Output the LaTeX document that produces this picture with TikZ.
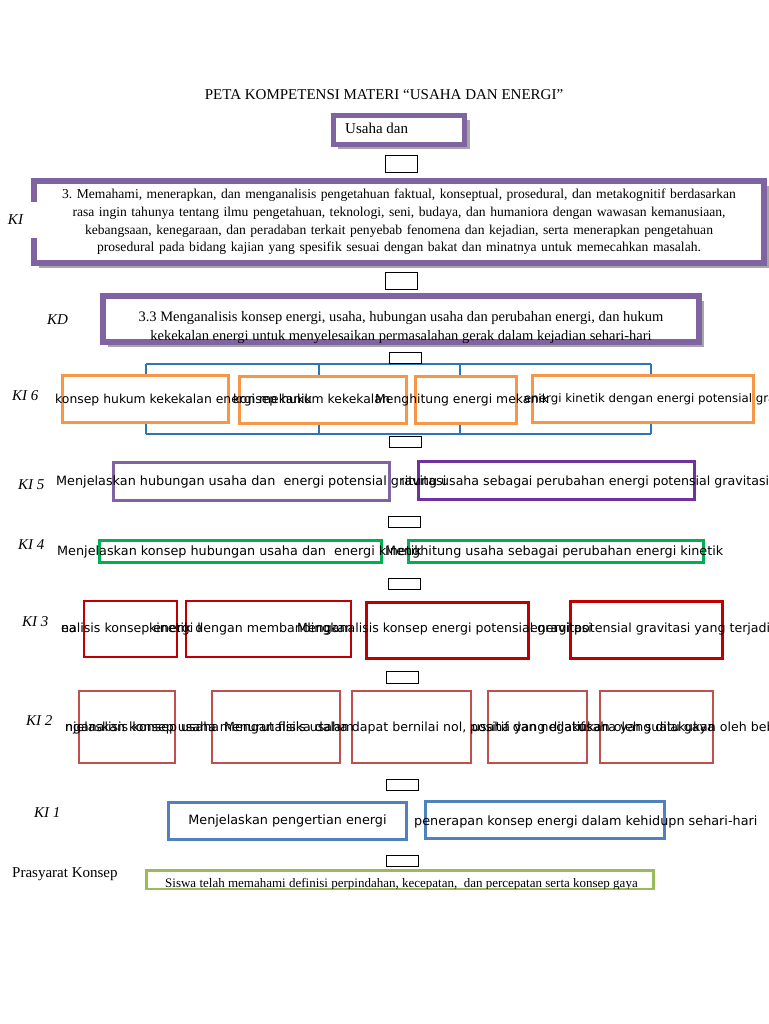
\documentclass[tikz,border=0pt]{standalone}
\usepackage{fontspec}
\setmainfont{Liberation Serif}
\newfontfamily\rowfont{DejaVu Sans}
\usetikzlibrary{shadows}
\frenchspacing

\definecolor{kipurple}{HTML}{8064A2}
\definecolor{darkpurple}{HTML}{7030A0}
\definecolor{kiorange}{HTML}{F79646}
\definecolor{kiblue}{HTML}{4F81BD}
\definecolor{bracketblue}{HTML}{2E75B6}
\definecolor{kigreen}{HTML}{00B050}
\definecolor{kired}{HTML}{C00000}
\definecolor{softred}{HTML}{C0504D}
\definecolor{kiolive}{HTML}{9BBB59}

\tikzset{
  mainbox/.style={draw=kipurple, line width=6pt, fill=white, inner sep=0pt,
    drop shadow={shadow xshift=5pt, shadow yshift=-5pt, fill=black!35, opacity=1}},
  linkbox/.style={draw=black, line width=0.8pt, fill=white, minimum width=32pt, inner sep=0pt},
  rowbox/.style={draw=#1, inner sep=0pt},
  rowtext/.style={anchor=base west, inner sep=0pt, font=\rowfont\fontsize{12.8}{15}\selectfont},
  kilabel/.style={anchor=base west, inner sep=0pt, font=\itshape\fontsize{15}{18}\selectfont},
  bracket/.style={draw=bracketblue, line width=2pt},
}

\begin{document}
\begin{tikzpicture}[x=1pt, y=-1pt]
\fill[white] (0,0) rectangle (768,1024);
\useasboundingbox (0,0) rectangle (768,1024);

% title and topic
\node[anchor=base, inner sep=0pt, font=\fontsize{15}{18}\selectfont] (title) at (384,100) {PETA KOMPETENSI MATERI “USAHA DAN ENERGI”};
\node[mainbox, line width=5pt, minimum width=131pt, minimum height=29pt,
  drop shadow={shadow xshift=4.5pt, shadow yshift=-4.5pt, fill=black!35, opacity=1}] (topic) at (399,130) {};
\node[anchor=base west, inner sep=0pt, font=\fontsize{15}{18}\selectfont] (topictext) at (345,134) {Usaha dan};

% KI
\node[mainbox, minimum width=730pt, minimum height=82pt, align=center, text width=725pt,
  font=\fontsize{13.6}{17.7}\selectfont] (ki) at (399,222)
  {3. Memahami, menerapkan, dan menganalisis pengetahuan faktual, konseptual, prosedural, dan metakognitif berdasarkan\\
   rasa ingin tahunya tentang ilmu pengetahuan, teknologi, seni, budaya, dan humaniora dengan wawasan kemanusiaan,\\
   kebangsaan, kenegaraan, dan peradaban terkait penyebab fenomena dan kejadian, serta menerapkan pengetahuan\\
   prosedural pada bidang kajian yang spesifik sesuai dengan bakat dan minatnya untuk memecahkan masalah.};
\node[fill=white, inner sep=3pt, minimum width=34pt, minimum height=36pt, text width=28pt, align=left,
  font=\itshape\fontsize{15}{18}\selectfont] (kilab) at (22,220) {KI};

% KD
\node[mainbox, minimum width=596pt, minimum height=46pt] (kd) at (401,319) {};
\begin{scope}
  \clip ([xshift=3pt,yshift=3pt]kd.south west) rectangle ([xshift=-3pt,yshift=-3pt]kd.north east);
  \node[align=center, inner sep=0pt, font=\fontsize{14.5}{19}\selectfont] (kdtext) at (401,327.5)
    {3.3 Menganalisis konsep energi, usaha, hubungan usaha dan perubahan energi, dan hukum\\
     kekekalan energi untuk menyelesaikan permasalahan gerak dalam kejadian sehari-hari};
\end{scope}
\node[kilabel] (kdlab) at (47,324) {KD};

% KI 6
\coordinate (btl) at (146,364); \coordinate (btr) at (651,364);
\coordinate (bbl) at (146,434); \coordinate (bbr) at (651,434);
\draw[bracket] (btl) -- (btr);
\draw[bracket] (bbl) -- (bbr);
\node[rowbox=kiorange, line width=3pt, minimum width=166pt, minimum height=47pt] (k61) at (145.5,399) {};
\node[rowbox=kiorange, line width=3pt, minimum width=167pt, minimum height=47pt] (k62) at (323,400) {};
\node[rowbox=kiorange, line width=3pt, minimum width=101pt, minimum height=47pt] (k63) at (466,400) {};
\node[rowbox=kiorange, line width=3pt, minimum width=221pt, minimum height=47pt] (k64) at (643,399) {};
\foreach \i/\bx/\bk in {1/146/k61, 2/319/k62, 3/460/k63, 4/651/k64} {
  \coordinate (bt\i) at (\bx,364);
  \coordinate (bb\i) at (\bx,434);
  \draw[bracket] (bt\i) -- (bt\i |- \bk.north);
  \draw[bracket] (bb\i) -- (bb\i |- \bk.south);
}
\node[kilabel] (ki6lab) at (12,400) {KI 6};
\node[rowtext, font=\rowfont\fontsize{12.4}{15}\selectfont] (t61) at (55,403) {konsep hukum kekekalan energi mekanik};
\node[rowtext, font=\rowfont\fontsize{12.4}{15}\selectfont] (t62) at (233,403) {konsep hukum kekekalan};
\node[rowtext, font=\rowfont\fontsize{12.4}{15}\selectfont] (t63) at (375,403) {Menghitung energi mekanik};
\node[rowtext, font=\rowfont\fontsize{11.8}{15}\selectfont] (t64) at (524,402) {energi kinetik dengan energi potensial gravitasi};

% KI 5
\node[rowbox=kipurple, line width=2.5pt, minimum width=276pt, minimum height=38pt] (k51) at (251.5,481.5) {};
\node[rowbox=darkpurple, line width=2.5pt, minimum width=276pt, minimum height=38pt] (k52) at (556.5,480.5) {};
\node[kilabel] (ki5lab) at (18,489) {KI 5};
\node[rowtext] (t51) at (56,485) {Menjelaskan hubungan usaha dan \ energi potensial gravitasi};
\begin{scope}
  \clip (402,465) rectangle (768,500);
  \node[rowtext, font=\rowfont\fontsize{12.6}{15}\selectfont] (t52) at (362,485) {Menghitung usaha sebagai perubahan energi potensial gravitasi};
\end{scope}

% KI 4
\node[rowbox=kigreen, line width=2.5pt, minimum width=282pt, minimum height=22pt] (k41) at (240.5,551.5) {};
\node[rowbox=kigreen, line width=2.5pt, minimum width=295pt, minimum height=22pt] (k42) at (556,551.5) {};
\node[kilabel] (ki4lab) at (18,549) {KI 4};
\node[rowtext] (t41) at (57,555) {Menjelaskan konsep hubungan usaha dan \ energi kinetik};
\node[rowtext] (t42) at (385,555) {Menghitung usaha sebagai perubahan energi kinetik};

% KI 3
\node[rowbox=kired, line width=2pt, minimum width=93pt, minimum height=56pt] (k31) at (130.5,629) {};
\node[rowbox=kired, line width=2pt, minimum width=165pt, minimum height=56pt] (k32) at (268.5,629) {};
\node[rowbox=kired, line width=3pt, minimum width=162pt, minimum height=56pt] (k33) at (447.5,630.5) {};
\node[rowbox=kired, line width=3pt, minimum width=152pt, minimum height=57pt] (k34) at (646.5,630) {};
\node[kilabel] (ki3lab) at (22,626) {KI 3};
\node[rowtext, font=\rowfont\fontsize{12.6}{15}\selectfont] (t30) at (61,632) {ea};
\begin{scope}
  \clip (55,615) rectangle (200,645);
  \node[rowtext, font=\rowfont\fontsize{12.6}{15}\selectfont] (t31) at (61,632) {nalisis konsep energi kinetik};
\end{scope}
\begin{scope}
  \clip (150,615) rectangle (363,645);
  \node[rowtext, font=\rowfont\fontsize{12.6}{15}\selectfont] (t32) at (105,632) {energi kinetik dengan membandingkan};
\end{scope}
\node[rowtext, font=\rowfont\fontsize{12.6}{15}\selectfont] (t33) at (297,632) {Menganalisis konsep energi potensial gravitasi};
\node[rowtext, font=\rowfont\fontsize{12.6}{15}\selectfont] (t34) at (530,632) {energi potensial gravitasi yang terjadi};

% KI 2
\node[rowbox=softred, line width=2pt, minimum width=96pt, minimum height=72pt] (k21) at (127,727) {};
\node[rowbox=softred, line width=2pt, minimum width=128pt, minimum height=72pt] (k22) at (276,727) {};
\node[rowbox=softred, line width=2pt, minimum width=119pt, minimum height=72pt] (k23) at (411.5,727) {};
\node[rowbox=softred, line width=2pt, minimum width=99pt, minimum height=72pt] (k24) at (537.5,727) {};
\node[rowbox=softred, line width=2pt, minimum width=113pt, minimum height=72pt] (k25) at (656.5,727) {};
\node[kilabel] (ki2lab) at (26,725) {KI 2};
\node[rowtext, font=\rowfont\fontsize{12.6}{15}\selectfont] (t21) at (65,731) {njelaskan konsep usaha menurut fisika dalam};
\node[rowtext, font=\rowfont\fontsize{12.6}{15}\selectfont] (t22) at (65,731) {nganalisis konsep usaha};
\node[rowtext, font=\rowfont\fontsize{12.6}{15}\selectfont] (t23) at (224,731) {Menganalisis usaha dapat bernilai nol,};
\node[rowtext, font=\rowfont\fontsize{12.6}{15}\selectfont] (t24) at (470,731) {positif dan negatif};
\node[rowtext, font=\rowfont\fontsize{12.6}{15}\selectfont] (t25) at (472,731) {usaha yang dilakukan oleh suatu gaya};
\node[rowtext, font=\rowfont\fontsize{12.6}{15}\selectfont] (t26) at (578,731) {usaha yang dilakukan oleh beberapa gaya};

% KI 1
\node[rowbox=kiblue, line width=3pt, minimum width=238pt, minimum height=37pt,
  font=\rowfont\fontsize{12.8}{15}\selectfont] (k11) at (287.5,821) {Menjelaskan pengertian energi};
\node[rowbox=kiblue, line width=3pt, minimum width=239pt, minimum height=37pt] (k12) at (545,820) {};
\node[kilabel] (ki1lab) at (34,817) {KI 1};
\node[rowtext] (t12) at (414,825) {penerapan konsep energi dalam kehidupn sehari-hari};

% prasyarat
\node[rowbox=kiolive, line width=2.5pt, minimum width=507pt, minimum height=18.5pt] (pk) at (400,879.5) {};
\begin{scope}
  \clip ([xshift=1.25pt,yshift=1.25pt]pk.south west) rectangle ([xshift=-1.25pt,yshift=-1.25pt]pk.north east);
  \node[anchor=base west, inner sep=0pt, font=\fontsize{13}{15}\selectfont] (pktext) at (165,887.5)
    {Siswa telah memahami definisi perpindahan, kecepatan, \ dan percepatan serta konsep gaya};
\end{scope}
\node[anchor=base west, inner sep=0pt, font=\fontsize{15}{18}\selectfont] (pklab) at (12,877) {Prasyarat Konsep};

% link boxes
\foreach \n/\cx/\cy/\h in {l1/401/163.5/17, l2/401/280.5/17, l3/405.5/357.5/11, l4/405.5/441.5/11,
  l5/404/521.5/11, l6/404/583.5/11, l7/402/677/12, l8/402/784.5/11, l9/402/860.5/11} {
  \node[linkbox, minimum height=\h pt] (\n) at (\cx,\cy) {};
}
\end{tikzpicture}
\end{document}
